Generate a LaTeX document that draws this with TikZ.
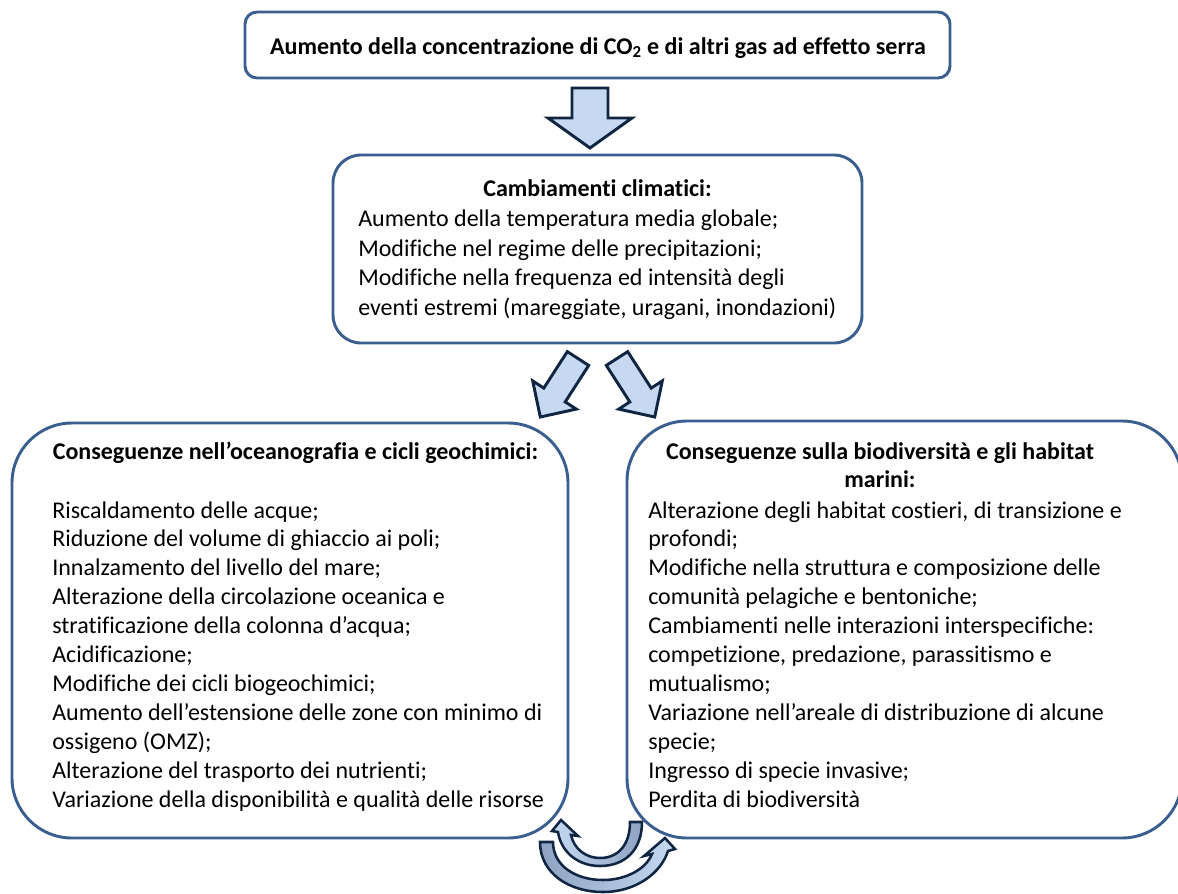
\documentclass[tikz,border=0pt]{standalone}
\usepackage{fontspec}
\setmainfont{Carlito}[Ligatures={TeX,NoCommon,NoContextual}, RawFeature={-liga;-clig;-rlig;-dlig}]
\usepackage{tikz}
\usetikzlibrary{shapes,arrows}
\definecolor{boxblue}{RGB}{58,95,143}
\definecolor{arrowfill}{RGB}{198,217,241}
\definecolor{arrowgrey}{RGB}{141,163,193}
\definecolor{arrowline}{RGB}{16,37,66}
\tikzstyle{box} = [rectangle, draw=boxblue, line width=2.2pt, fill=white, inner sep=0pt]
\tikzstyle{title} = [font=\fontsize{18}{22}\selectfont\bfseries, anchor=base, inner sep=0pt]
\tikzstyle{body} = [font=\fontsize{18}{21.7}\selectfont, align=left, anchor=north west, inner sep=0pt]
\tikzstyle{blockarrow} = [draw=arrowline, fill=arrowfill, line width=2.2pt, line join=miter]
\tikzstyle{curvedarrow} = [draw=arrowline, line width=1.9pt, line join=miter]

\begin{document}
\begin{tikzpicture}[x=0.75pt, y=-0.75pt]
			\useasboundingbox (0,0) rectangle (1178,893);
			\clip (0,0) rectangle (1178,893);
			% boxes
			\node [box, rounded corners=9pt, minimum width=528.75pt, minimum height=49.5pt] (gas) at (597.5,45) {};
			\node [box, rounded corners=21pt, minimum width=396.75pt, minimum height=141pt] (clima) at (597.5,249) {};
			\node [box, rounded corners=45pt, minimum width=417pt, minimum height=311.25pt] (oceano) at (290,630.5) {};
			\node [box, rounded corners=45pt, minimum width=416.25pt, minimum height=312.75pt] (biodiv) at (904.5,629.5) {};
			% texts
			\node [title] (gastitle) at (598,54) {Aumento della concentrazione di CO\textsubscript{2} e di altri gas ad effetto serra};
			\node [title] (climatitle) at (597.5,196) {Cambiamenti climatici:};
			\node [body, font=\fontsize{18}{22.2}\selectfont] (climatext) at (358,205.5) {\strut Aumento della temperatura media globale;\\
				Modifiche nel regime delle precipitazioni;\\
				Modifiche nella frequenza ed intensità degli\\
				eventi estremi (mareggiate, uragani, inondazioni)};
			\node [title] (oceanotitle) at (295.5,459) {Conseguenze nell'oceanografia e cicli geochimici:};
			\node [body] (oceanotext) at (52,497.5) {\strut Riscaldamento delle acque;\\
				Riduzione del volume di ghiaccio ai poli;\\
				Innalzamento del livello del mare;\\
				Alterazione della circolazione oceanica e\\
				stratificazione della colonna d'acqua;\\
				Acidificazione;\\
				Modifiche dei cicli biogeochimici;\\
				Aumento dell'estensione delle zone con minimo di\\
				ossigeno (OMZ);\\
				Alterazione del trasporto dei nutrienti;\\
				Variazione della disponibilità e qualità delle risorse};
			\node [title, anchor=north, align=center, font=\fontsize{18}{21.7}\selectfont\bfseries] (biodivtitle) at (880,438.5) {\strut Conseguenze sulla biodiversità e gli habitat\\ marini:};
			\node [body] (biodivtext) at (648,497.5) {\strut Alterazione degli habitat costieri, di transizione e\\
				profondi;\\
				Modifiche nella struttura e composizione delle\\
				comunità pelagiche e bentoniche;\\
				Cambiamenti nelle interazioni interspecifiche:\\
				competizione, predazione, parassitismo e\\
				mutualismo;\\
				Variazione nell'areale di distribuzione di alcune\\
				specie;\\
				Ingresso di specie invasive;\\
				Perdita di biodiversità};
			% block arrows
			\path [blockarrow] (572,88) -- (608,88) -- (608,118) -- (632,118) -- (590,148) -- (548,118) -- (572,118) -- cycle;
			\path [blockarrow] (567.3,351.6) -- (588.7,365.4) -- (565.2,401.9) -- (576.3,409.1) -- (540.3,417) -- (532.7,380.9) -- (543.8,388.1) -- cycle;
			\path [blockarrow] (627.7,351.6) -- (606.3,365.4) -- (629.8,401.9) -- (618.7,409.1) -- (654.7,417) -- (662.3,380.9) -- (651.2,388.1) -- cycle;
			% curved arrows
			\path [curvedarrow, left color=arrowfill, right color=arrowgrey] (630,822) -- (642,822) .. controls (642,850) and (625,866) .. (600,866) .. controls (578,866) and (561,852) .. (558,832) -- (552,831) -- (561,820) -- (578,836) -- (571,835) .. controls (574,849) and (586,858) .. (600,858) .. controls (618,858) and (630,845) .. (630,822) -- cycle;
			\path [curvedarrow, left color=arrowgrey, right color=arrowfill] (553,842) -- (540,842) .. controls (540,874) and (570,892) .. (603,892) .. controls (636,892) and (661,873) .. (668,851) -- (675,849) -- (665,838) -- (644,856) -- (652,854) .. controls (646,869) and (626,880) .. (603,880) .. controls (576,880) and (553,866) .. (553,842) -- cycle;
\end{tikzpicture}
\end{document}
